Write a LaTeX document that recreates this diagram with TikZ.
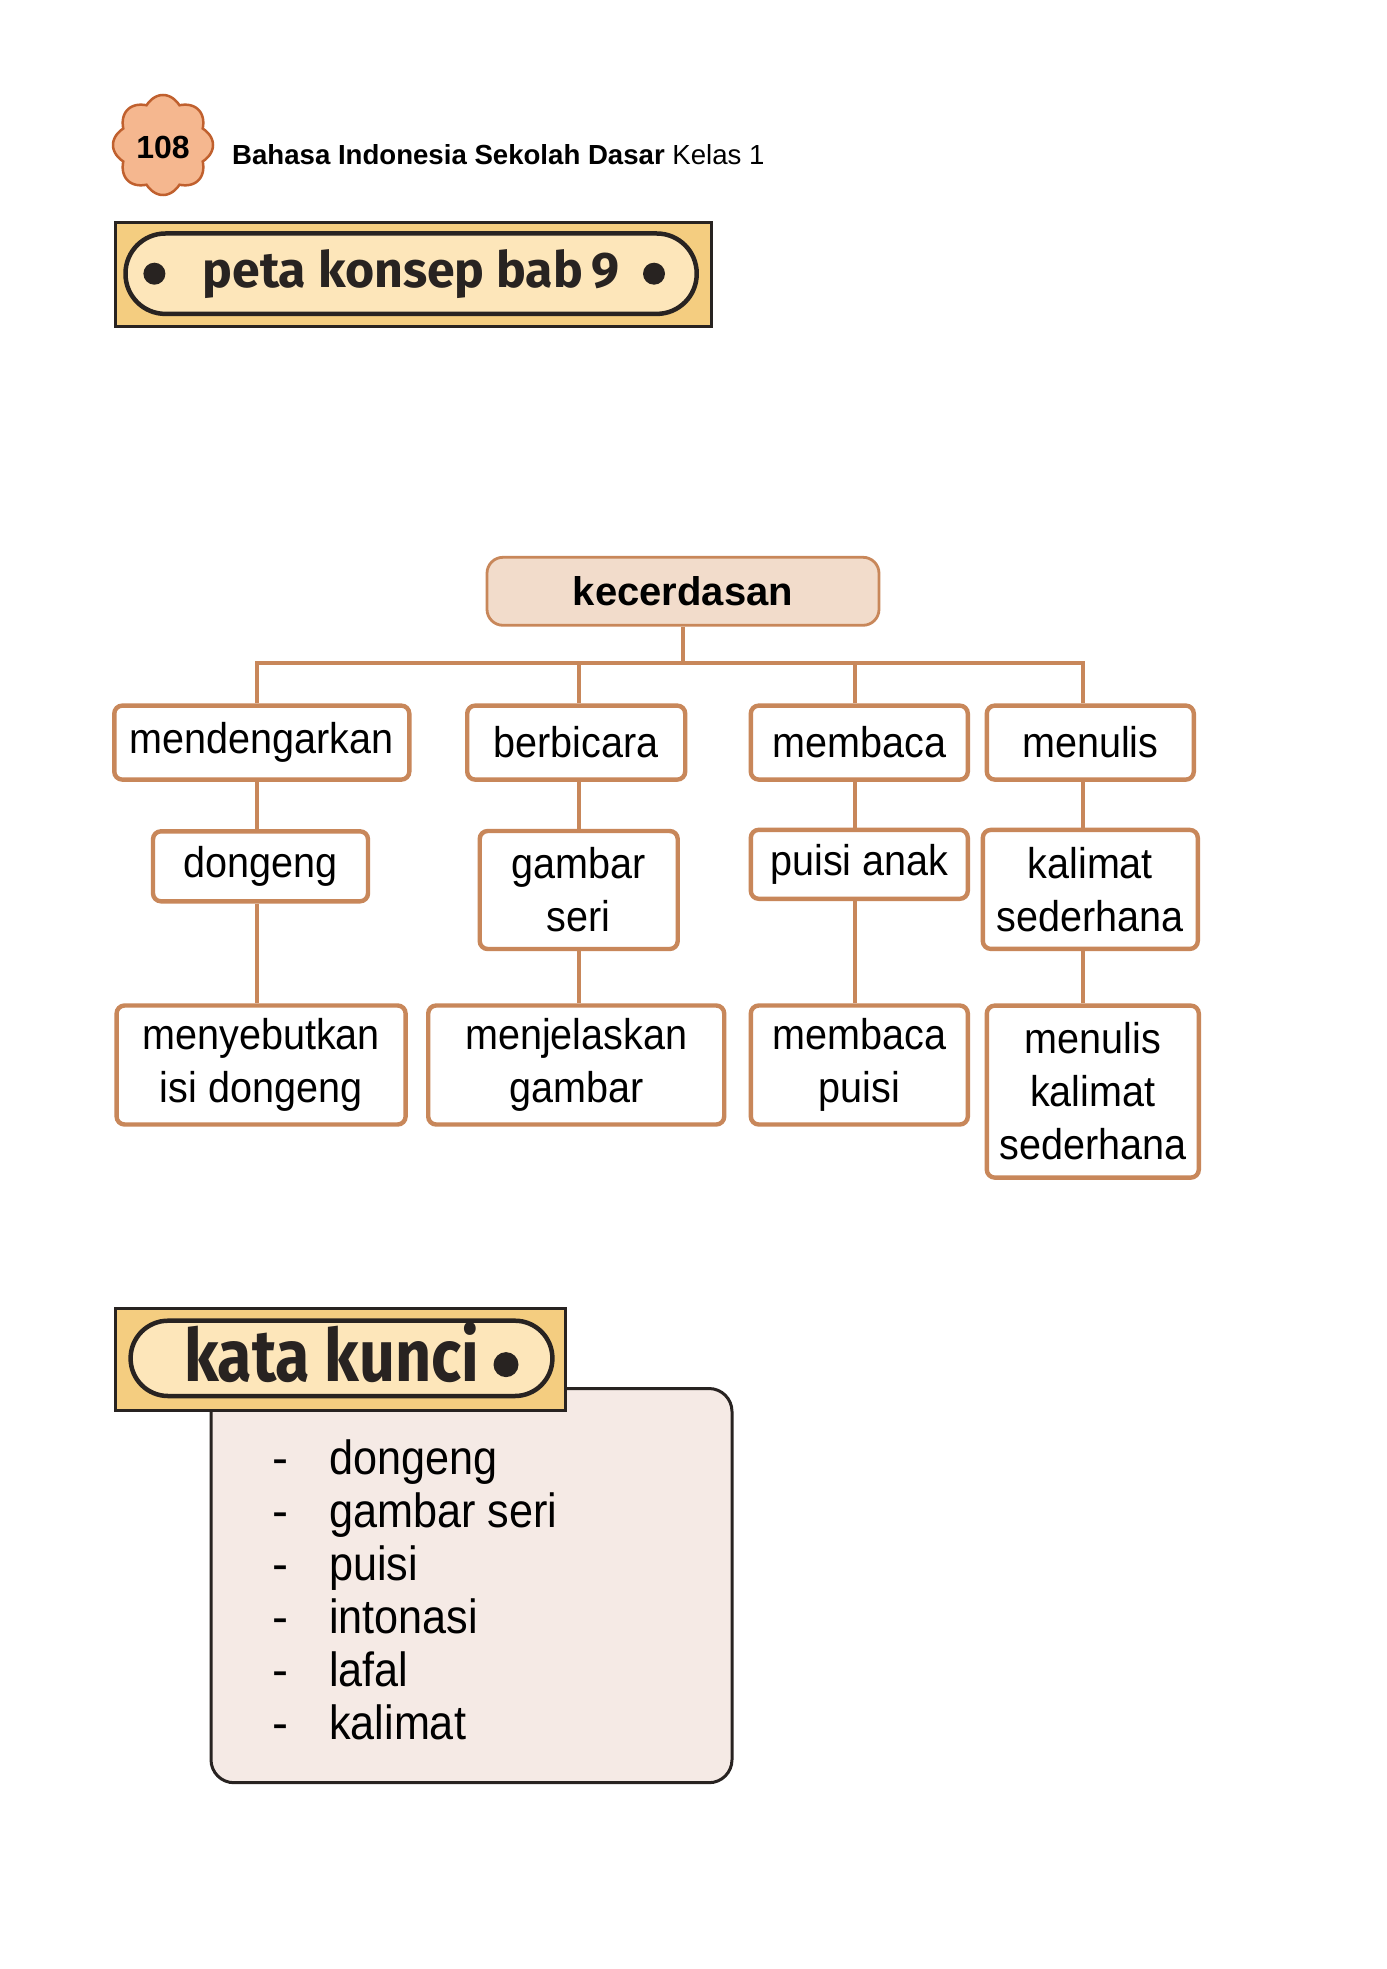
\documentclass[tikz,border=0pt]{standalone}
\usepackage{fontspec}
\setmainfont{Liberation Sans}
\newfontfamily\judulfont{Fira Sans}
\newfontfamily\petafont[FakeStretch=0.92]{Liberation Sans}
\usetikzlibrary{calc}
\definecolor{garis}{RGB}{200,135,90}
\definecolor{kulit}{RGB}{242,220,203}
\definecolor{emas}{RGB}{244,205,128}
\definecolor{krem}{RGB}{253,230,186}
\definecolor{merahmuda}{RGB}{245,234,229}
\definecolor{tinta}{RGB}{40,35,33}
\definecolor{bungaisi}{RGB}{245,183,143}
\definecolor{bungatepi}{RGB}{192,96,46}
\def\sempit#1#2{\scalebox{#1}[1]{#2}}
\tikzset{
	konsep/.style={draw=garis, line width=4.4pt, rounded corners=8pt, fill=white, inner sep=0pt, align=center, text=black, font=\petafont\fontsize{43}{53}\selectfont},
	akarbox/.style={konsep, fill=kulit, line width=2.8pt, rounded corners=16pt, font=\bfseries\fontsize{40}{48}\selectfont},
	cabang/.style={draw=garis, line width=4pt},
	papan/.style={draw=tinta, line width=3pt, fill=emas},
	lonjong/.style={draw=tinta, line width=4.5pt, fill=krem},
	titik/.style={circle, fill=tinta, inner sep=0pt},
	butir/.style={inner sep=0pt, text=black, font=\fontsize{48}{53}\selectfont}
}
\begin{document}
\begin{tikzpicture}[x=1pt, y=-1pt]
			%%%%% START %%%%%
			\fill[white] (0,0) rectangle (1386,1969);
			\useasboundingbox (0,0) rectangle (1386,1969);
			
			% kepala halaman
			\draw[fill=bungaisi, draw=bungatepi, line width=2.5pt, shift={(163,145)}] plot[domain=0:360, samples=241] (\x:{43pt+7pt*abs(cos(4*\x))}) -- cycle;
			\node[font=\bfseries\fontsize{32}{32}\selectfont] (halaman) at (163,147) {108};
			\node[anchor=base west, inner sep=0pt, font=\fontsize{27.6}{30}\selectfont] (kepala) at (232,164.5) {\textbf{Bahasa Indonesia Sekolah Dasar} Kelas 1};
			
			% judul
			\draw[papan] (115.5,222.2) rectangle (711.8,326.4);
			\draw[lonjong, rounded corners=39.9pt] (125.5,233.5) rectangle (696.7,313.9);
			\node[titik, minimum size=22pt] (titikkiri) at (154.4,273.7) {};
			\node[titik, minimum size=22pt] (titikkanan) at (654,273.7) {};
			\node[anchor=base, inner sep=0pt, text=tinta, font=\judulfont\bfseries\fontsize{50}{50}\selectfont] (judul) at (411,287.5) {peta konsep bab\,9};
			
			% peta konsep
			\node[akarbox, minimum width=392pt, minimum height=68pt] (akar) at (683,591.3) {kecerdasan};
			
			\node[konsep, minimum width=295pt, minimum height=74pt] (dengar) at (261.8,742.6) {mendengarkan};
			\node[konsep, minimum width=218pt, minimum height=74pt] (bicara) at (576.2,742.6) {berbicara};
			\node[konsep, minimum width=217pt, minimum height=74pt] (baca) at (859.3,742.6) {membaca};
			\node[konsep, minimum width=207pt, minimum height=74pt] (tulis) at (1090.3,742.6) {menulis};
			
			\node[konsep, minimum width=215pt, minimum height=70pt] (dongeng) at (260.5,866.3) {dongeng};
			\node[konsep, minimum width=198pt, minimum height=118pt] (gambar) at (578.7,890) {gambar\\seri};
			\node[konsep, minimum width=217pt, minimum height=69pt] (puisi) at (859.3,864.3) {puisi anak};
			\node[konsep, minimum width=215pt, minimum height=119pt] (kalimat) at (1090.3,889.4) {kalimat\\sederhana};
			
			\node[konsep, minimum width=289pt, minimum height=119pt] (sebut) at (261.1,1065) {menyebutkan\\isi dongeng};
			\node[konsep, minimum width=296pt, minimum height=119pt] (jelas) at (576.2,1065) {menjelaskan\\gambar};
			\node[konsep, minimum width=217pt, minimum height=119pt] (bacapuisi) at (859.3,1065) {membaca\\puisi};
			\node[konsep, minimum width=212pt, minimum height=172pt] (tuliskal) at (1092.8,1091.6) {menulis\\kalimat\\sederhana};
			
			\coordinate (bus) at (0,662.9);
			\coordinate (k1) at (257.4,0);
			\coordinate (k2) at (578.7,0);
			\coordinate (k3) at (855,0);
			\coordinate (k4) at (1083.4,0);
			
			\draw[cabang] (akar.south) -- (akar.south |- bus);
			\draw[cabang] (k1 |- dengar.north) -- (k1 |- bus) -- (k4 |- bus) -- (k4 |- tulis.north);
			\draw[cabang] (k2 |- bus) -- (k2 |- bicara.north);
			\draw[cabang] (k3 |- bus) -- (k3 |- baca.north);
			
			\draw[cabang] (k1 |- dengar.south) -- (k1 |- dongeng.north);
			\draw[cabang] (k1 |- dongeng.south) -- (k1 |- sebut.north);
			\draw[cabang] (k2 |- bicara.south) -- (k2 |- gambar.north);
			\draw[cabang] (k2 |- gambar.south) -- (k2 |- jelas.north);
			\draw[cabang] (k3 |- baca.south) -- (k3 |- puisi.north);
			\draw[cabang] (k3 |- puisi.south) -- (k3 |- bacapuisi.north);
			\draw[cabang] (k4 |- tulis.south) -- (k4 |- kalimat.north);
			\draw[cabang] (k4 |- kalimat.south) -- (k4 |- tuliskal.north);
			
			% kata kunci
			\draw[fill=merahmuda, draw=tinta, line width=3pt, rounded corners=23pt] (211,1388.5) rectangle (732,1782.7);
			\draw[papan] (115.5,1308) rectangle (565,1410);
			\draw[lonjong, rounded corners=37.5pt] (130.6,1320.7) rectangle (552.4,1396);
			\node[anchor=base, inner sep=0pt, text=tinta, font=\judulfont\bfseries\fontsize{73}{73}\selectfont] (kunci) at (331.5,1381) {\sempit{0.86}{kata kunci}};
			\node[titik, minimum size=25pt] (titikkunci) at (506,1364.6) {};
			
			\foreach \kata [count=\i] in {dongeng, gambar seri, puisi, intonasi, lafal, kalimat} {
				\node[butir, anchor=base] (strip\i) at (280,{1421+53*\i}) {-};
				\node[butir, anchor=base west] (kata\i) at (329,{1421+53*\i}) {\sempit{0.9}{\kata}};
			}
			
			%%%%% END %%%%%
\end{tikzpicture}
\end{document}
